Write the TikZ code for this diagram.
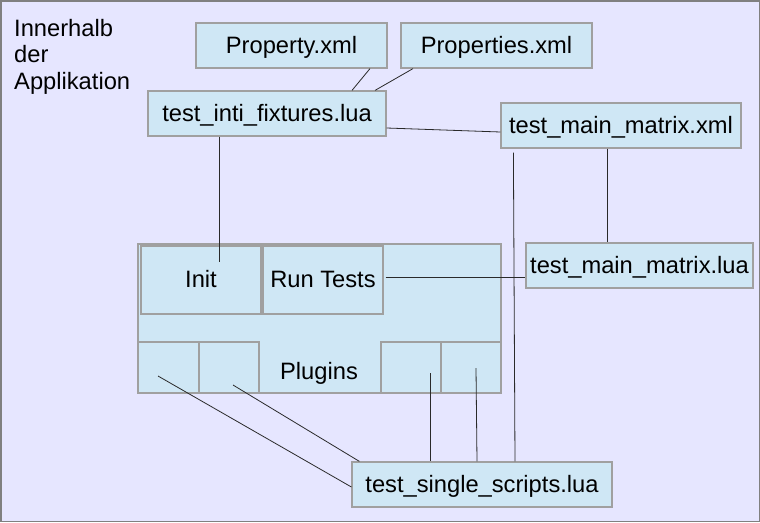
\documentclass[tikz,border=0pt]{standalone}
\usepackage{fontspec}
\setmainfont{Liberation Sans}
\usepackage{tikz}
\usetikzlibrary{calc}
\definecolor{AppBack}{HTML}{E6E6FF}
\definecolor{AppFill}{HTML}{CFE7F5}
\definecolor{AppBorder}{HTML}{A0A0A0}
\definecolor{AppFrame}{HTML}{808080}
\definecolor{AppLine}{HTML}{2A2A2A}

\begin{document}
\begin{tikzpicture}[
  x=1pt,y=-1pt,
  filebox/.style={draw=AppBorder,line width=1.2pt,fill=AppFill,inner sep=0pt,minimum height=45pt,text height=15pt,text depth=0pt,font=\fontsize{23.7}{26}\selectfont},
  partbox/.style={draw=AppBorder,line width=1.2pt,fill=AppFill,inner sep=0pt,minimum width=120pt,minimum height=68pt,text height=15pt,text depth=0pt,font=\fontsize{23.7}{26}\selectfont},
  plugbox/.style={draw=AppBorder,line width=1.2pt,fill=AppFill,inner sep=0pt,minimum width=60pt,minimum height=51pt},
  link/.style={draw=AppLine,line width=0.8pt}
]
\useasboundingbox (0,0) rectangle (760,522);
\draw[fill=AppBack,draw=AppFrame,line width=1.5pt] (0.75,0.75) rectangle (759.25,521.25);
\node[anchor=north west,align=left,inner sep=0pt,font=\fontsize{23.7}{26.5}\selectfont] (where) at (14,19) {Innerhalb\\der\\Applikation};
\node[filebox,minimum width=191pt] (prop) at (291.5,45.5) {Property.xml};
\node[filebox,minimum width=191pt] (props) at (496.5,45.5) {Properties.xml};
\node[filebox,minimum width=238pt] (fixt) at (267,113.5) {test\_inti\_fixtures.lua};
\node[filebox,minimum width=240pt] (mxml) at (621,125.5) {test\_main\_matrix.xml};
\node[filebox,minimum width=227pt] (mlua) at (639.5,265.5) {test\_main\_matrix.lua};
\node[filebox,minimum width=260pt] (single) at (482,484.5) {test\_single\_scripts.lua};
\node[draw=AppBorder,line width=1.2pt,fill=AppFill,minimum width=363pt,minimum height=149pt] (app) at (319.5,318.5) {};
\node[partbox] (init) at (201,280) {Init};
\node[partbox] (run) at (323,280) {Run Tests};
\node[plugbox,minimum width=61pt] (pl1) at (168.5,367.5) {};
\node[plugbox] (pl2) at (229,367.5) {};
\node[plugbox] (pl3) at (411,367.5) {};
\node[plugbox] (pl4) at (471,367.5) {};
\node[inner sep=0pt,text height=15pt,text depth=0pt,font=\fontsize{23.7}{26}\selectfont] (plugins) at (319,372) {Plugins};
\draw[link] ($(prop.south)+(78.5,0)$) -- ($(fixt.north)+(85,0)$);
\draw[link] ($(props.south)+(-83.5,0)$) -- ($(fixt.north)+(108,0)$);
\draw[link] ($(fixt.east)+(0,14.5)$) -- ($(mxml.west)+(0,6.5)$);
\draw[link] ($(fixt.south)+(-48,0)$) -- ($(init.center)+(18,-18)$);
\draw[link] ($(mxml.south)+(-14,0)$) -- ($(mlua.north)+(-32.5,0)$);
\draw[link] ($(mxml.south west)+(13,4)$) -- ($(single.north)+(33,0)$);
\draw[link] ($(run.east)+(2,-3)$) -- ($(mlua.west)+(0,11.5)$);
\draw[link] ($(pl1.center)+(-10.5,8.5)$) -- ($(single.west)+(0,2.5)$);
\draw[link] ($(pl2.center)+(4,17.5)$) -- ($(single.north west)+(8,0)$);
\draw[link] ($(pl3.center)+(19,5.5)$) -- ($(single.north)+(-52,0)$);
\draw[link] ($(pl4.center)+(5,0.5)$) -- ($(single.north)+(-5,0)$);
\end{tikzpicture}
\end{document}
